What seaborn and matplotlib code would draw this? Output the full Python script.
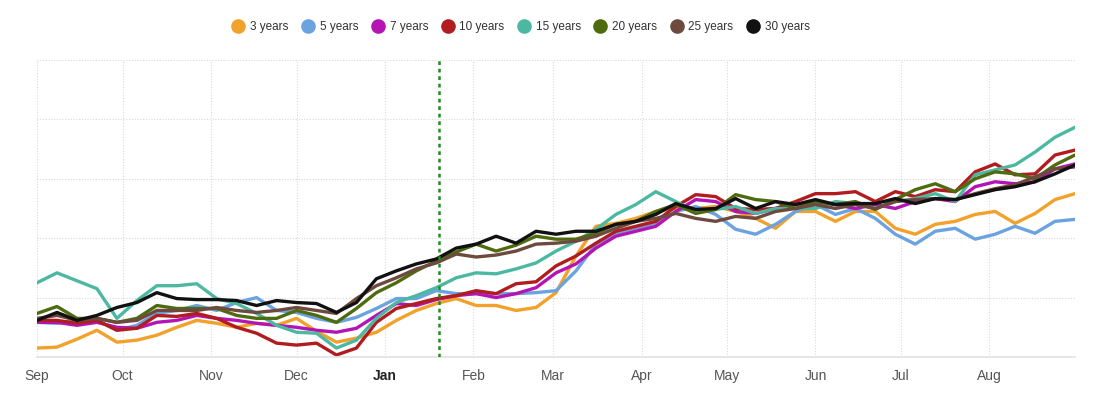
import pandas as pd
import matplotlib
matplotlib.use("Agg")
import matplotlib.pyplot as plt
import matplotlib.dates as mdates
from matplotlib.lines import Line2D
import seaborn as sns

# ---- data (weekly readings, arbitrary index units) ----
dates = pd.date_range("2024-09-01", periods=53, freq="7D")
marker_date = pd.Timestamp("2025-01-20")

labels = ["3 years", "5 years", "7 years", "10 years", "15 years", "20 years", "25 years", "30 years"]
colors = ["#F2A12A", "#6BA3E0", "#B414B4", "#B01C1F", "#4DB8A2", "#4E6B10", "#6E4A3E", "#111111"]

y3 = [9, 10, 18, 27, 15, 17, 22, 30, 37,
      34, 30, 34, 32, 39, 26, 15, 19, 25,
      37, 47, 54, 59, 52, 52, 47, 50, 65, 102,
      132, 135, 140, 147, 150, 150, 152, 147, 140,
      130, 147, 147, 137, 147, 147, 130, 124, 134, 137, 144, 147, 135, 145, 159, 165]
y5 = [35, 34, 37, 37, 27, 32, 44, 47, 52,
      47, 55, 60, 47, 45, 39, 35, 40, 49,
      59, 59, 67, 64, 64, 64, 64, 65, 67, 87,
      114, 125, 130, 135, 147, 152, 144, 129, 124,
      134, 147, 154, 144, 150, 140, 124, 114, 127, 130, 119, 124, 132, 125, 137, 139]
y7 = [35, 35, 32, 35, 30, 29, 35, 37, 42,
      39, 37, 34, 32, 30, 27, 25, 29, 42,
      54, 52, 58, 62, 64, 60, 64, 70, 85, 94,
      110, 122, 127, 132, 147, 159, 157, 147, 145,
      150, 154, 157, 154, 150, 154, 150, 157, 160, 157, 172, 177, 175, 177, 190, 195]
y10 = [37, 37, 34, 37, 27, 29, 42, 41, 44,
       39, 30, 24, 14, 12, 14, 2, 9, 35,
       49, 54, 59, 62, 67, 64, 74, 76, 92, 102,
       115, 127, 132, 137, 152, 164, 162, 150, 149,
       150, 157, 165, 165, 167, 157, 167, 162, 169, 167, 187, 195, 184, 185, 204, 209]
y15 = [75, 85, 77, 69, 39, 57, 72, 72, 74,
       59, 54, 44, 32, 25, 24, 9, 17, 39,
       55, 62, 70, 80, 85, 84, 89, 95, 107, 117,
       129, 144, 154, 167, 157, 147, 149, 152, 145,
       150, 150, 150, 157, 155, 150, 157, 160, 165, 157, 184, 189, 194, 207, 222, 232]
y20 = [44, 51, 39, 39, 35, 39, 52, 49, 49,
       49, 42, 39, 39, 47, 42, 35, 49, 65,
       75, 87, 97, 106, 114, 107, 113, 122, 119, 119,
       125, 134, 137, 147, 154, 145, 149, 164, 159,
       157, 150, 157, 154, 157, 149, 159, 169, 175, 167, 180, 187, 185, 180, 194, 204]
y25 = [39, 42, 37, 39, 35, 37, 47, 47, 47,
       50, 47, 45, 47, 50, 47, 44, 59, 72,
       80, 89, 95, 104, 101, 103, 107, 114, 115, 117,
       122, 130, 137, 140, 145, 140, 137, 142, 140,
       147, 150, 154, 150, 154, 150, 157, 159, 160, 159, 165, 170, 174, 182, 190, 192]
y30 = [37, 45, 37, 42, 50, 55, 65, 59, 58,
       58, 57, 52, 57, 55, 54, 45, 55, 79,
       87, 94, 99, 110, 114, 122, 115, 127, 124, 127,
       127, 134, 137, 144, 155, 149, 150, 160, 150,
       157, 154, 159, 154, 155, 155, 160, 155, 160, 159, 164, 169, 172, 177, 185, 194]

series = [y3, y5, y7, y10, y15, y20, y25, y30]

df = pd.concat(
    [pd.DataFrame({"date": dates, "value": vals, "term": lab}) for lab, vals in zip(labels, series)],
    ignore_index=True,
)

# ---- plot ----
sns.set_theme(style="white")
plt.rcParams["font.family"] = ["Liberation Sans", "DejaVu Sans"]

fig = plt.figure(figsize=(10.93, 3.96), dpi=100)
ax = fig.add_axes([0.0339, 0.0985, 0.9496, 0.75])

sns.lineplot(
    data=df, x="date", y="value", hue="term",
    hue_order=labels, palette=colors, linewidth=2.4,
    legend=False, ax=ax,
)

ax.axvline(marker_date, color="#1E8C1E", linestyle=(0, (1.5, 1.5)), linewidth=1.8, zorder=5)

ax.set_xlim(pd.Timestamp("2024-09-01"), pd.Timestamp("2025-08-31"))
ax.set_ylim(0, 300)
ax.set_yticks([0, 60, 120, 180, 240, 300])
ax.set_yticklabels([])
ax.xaxis.set_major_locator(mdates.MonthLocator())
ax.xaxis.set_major_formatter(mdates.DateFormatter("%b"))
ax.tick_params(axis="both", length=0)
ax.tick_params(axis="x", pad=9, labelsize=10, labelcolor="#555555")
for t in ax.get_xticklabels():
    if t.get_text() == "Jan":
        t.set_fontweight("bold")
        t.set_color("#222222")

ax.grid(True, linestyle=(0, (1, 1.5)), color="#d9d9d9", linewidth=0.8)
ax.set_xlabel("")
ax.set_ylabel("")
for side in ["top", "right", "left"]:
    ax.spines[side].set_visible(False)
ax.spines["bottom"].set_color("#e2e2e2")
ax.spines["bottom"].set_linewidth(1.2)

handles = [Line2D([], [], marker="o", linestyle="", markersize=9.5, color=c) for c in colors]
fig.legend(
    handles, labels, loc="center", bbox_to_anchor=(0.474, 0.932), ncol=8,
    frameon=False, fontsize=8.5, handletextpad=0.0, columnspacing=0.65,
    labelcolor="#333333",
)

fig.savefig("out.png", dpi=100)
